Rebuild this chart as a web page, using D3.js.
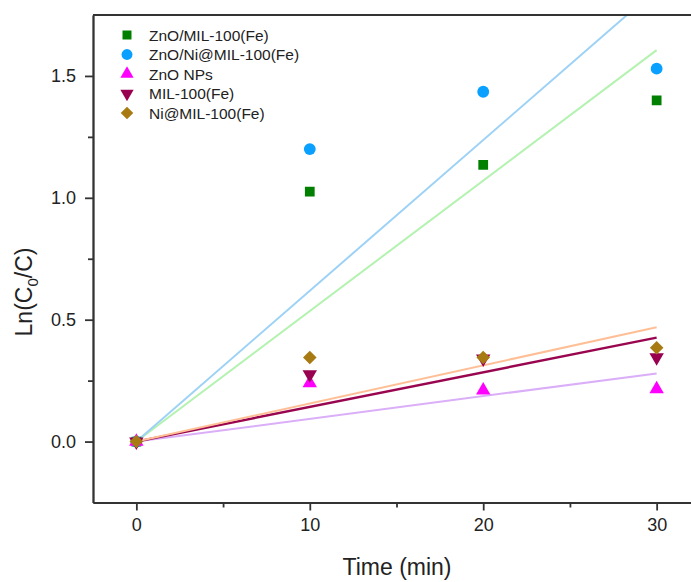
<!DOCTYPE html>
<html lang="en">
<head>
  <meta charset="UTF-8">
  <title>Ln(C0/C) vs Time</title>
  <script src="https://d3js.org/d3.v7.min.js"></script>
  <style>
    body {
      margin: 0;
      background: #fff;
      font-family: Arial, "Liberation Sans", sans-serif;
    }
    #chart { display: block; }
    .axis path, .axis line { stroke: #333; stroke-width: 1.8; }
    .axis text { font-size: 18px; fill: #222; font-family: Arial, "Liberation Sans", sans-serif; }
  </style>
</head>
<body>
  <svg id="chart" width="691" height="582"></svg>

  <script>
    // Data.
    const times = [0, 10, 20, 30];
    const seriesNames = ["ZnO/MIL-100(Fe)", "ZnO/Ni@MIL-100(Fe)", "ZnO NPs", "MIL-100(Fe)", "Ni@MIL-100(Fe)"];
    const znoMil = [0, 1.025, 1.135, 1.40];
    const znoNiMil = [0, 1.20, 1.435, 1.53];
    const znoNps = [0, 0.24, 0.21, 0.215];
    const mil100 = [0, 0.275, 0.34, 0.345];
    const niMil = [0, 0.345, 0.345, 0.385];
    const seriesValues = [znoMil, znoNiMil, znoNps, mil100, niMil];

    const markerColors = ["#007f00", "#0aa0ff", "#ff00ff", "#990050", "#a87a12"];
    const fitColors = ["#b4f2b0", "#9dd2f6", "#dbaef8", "#99064f", "#ffbf96"];
    const fitWidths = [2, 2, 2, 2.4, 2];
    const symbols = [d3.symbolSquare, d3.symbolCircle, d3.symbolTriangle, d3.symbolTriangle, d3.symbolSquare];
    const symbolSizes = [95, 110, 90, 90, 92];
    const rotations = [0, 0, 0, 180, 45];

    const xTicks = [0, 10, 20, 30];
    const xMinor = [5, 15, 25];
    const yTicks = [0, 0.5, 1.0, 1.5];
    const yMinor = [0.25, 0.75, 1.25];

    const svg = d3.select("#chart");
    const plotLeft = 93, plotRight = 700, plotTop = 15, plotBottom = 502.5;

    const x = d3.scaleLinear().domain([-2.5, 32.5]).range([plotLeft, plotRight]);
    const y = d3.scaleLinear().domain([-0.25, 1.75]).range([plotBottom, plotTop]);

    svg.append("clipPath").attr("id", "plotClip")
      .append("rect").attr("x", plotLeft).attr("y", plotTop)
      .attr("width", plotRight - plotLeft).attr("height", plotBottom - plotTop);

    // Least-squares fit through the origin for each series.
    const slopes = seriesValues.map(vals => {
      const sxy = d3.sum(times, (t, i) => t * vals[i]);
      const sxx = d3.sum(times, t => t * t);
      return sxy / sxx;
    });

    const plot = svg.append("g").attr("clip-path", "url(#plotClip)");

    // Fit lines.
    slopes.forEach((m, i) => {
      plot.append("line")
        .attr("x1", x(0)).attr("y1", y(0))
        .attr("x2", x(30)).attr("y2", y(m * 30))
        .attr("stroke", fitColors[i])
        .attr("stroke-width", fitWidths[i]);
    });

    // Data points.
    seriesValues.forEach((vals, i) => {
      plot.selectAll(".pt" + i)
        .data(times.map((t, j) => ({ t, v: vals[j] })))
        .enter().append("path")
        .attr("class", "pt" + i)
        .attr("d", d3.symbol().type(symbols[i]).size(symbolSizes[i]))
        .attr("transform", d => `translate(${x(d.t)},${y(d.v)}) rotate(${rotations[i]})`)
        .attr("fill", markerColors[i]);
    });

    // Axes.
    svg.append("g").attr("class", "axis")
      .attr("transform", `translate(0,${plotBottom})`)
      .call(d3.axisBottom(x).tickValues(xTicks).tickSize(8).tickSizeOuter(0).tickPadding(8));
    svg.append("g").attr("class", "axis")
      .attr("transform", `translate(0,${plotBottom})`)
      .call(d3.axisBottom(x).tickValues(xMinor).tickSize(5).tickSizeOuter(0).tickFormat(""));
    svg.append("g").attr("class", "axis")
      .attr("transform", `translate(${plotLeft},0)`)
      .call(d3.axisLeft(y).tickValues(yTicks).tickSize(8).tickSizeOuter(0).tickPadding(9)
        .tickFormat(d3.format(".1f")));
    svg.append("g").attr("class", "axis")
      .attr("transform", `translate(${plotLeft},0)`)
      .call(d3.axisLeft(y).tickValues(yMinor).tickSize(5).tickSizeOuter(0).tickFormat(""));
    svg.append("line")
      .attr("x1", plotLeft).attr("x2", plotRight).attr("y1", plotTop).attr("y2", plotTop)
      .attr("stroke", "#333").attr("stroke-width", 1.8);

    // Axis titles.
    svg.append("text")
      .attr("x", 397).attr("y", 575)
      .attr("text-anchor", "middle")
      .attr("font-size", 23).attr("fill", "#222")
      .text("Time (min)");

    const yTitle = svg.append("text")
      .attr("transform", "translate(32,292) rotate(-90)")
      .attr("text-anchor", "middle")
      .attr("font-size", 23).attr("fill", "#222");
    yTitle.append("tspan").text("Ln(C");
    yTitle.append("tspan").attr("font-size", 15).attr("dy", 6).text("0");
    yTitle.append("tspan").attr("dy", -6).text("/C)");

    // Legend.
    const legend = svg.append("g").attr("transform", "translate(127,35)");
    seriesNames.forEach((name, i) => {
      const row = legend.append("g").attr("transform", `translate(0,${i * 19.5})`);
      row.append("path")
        .attr("d", d3.symbol().type(symbols[i]).size(symbolSizes[i] * 0.85))
        .attr("transform", `rotate(${rotations[i]})`)
        .attr("fill", markerColors[i]);
      row.append("text")
        .attr("x", 22).attr("y", 5.5)
        .attr("font-size", 15.5).attr("fill", "#222")
        .text(name);
    });
  </script>
</body>
</html>
